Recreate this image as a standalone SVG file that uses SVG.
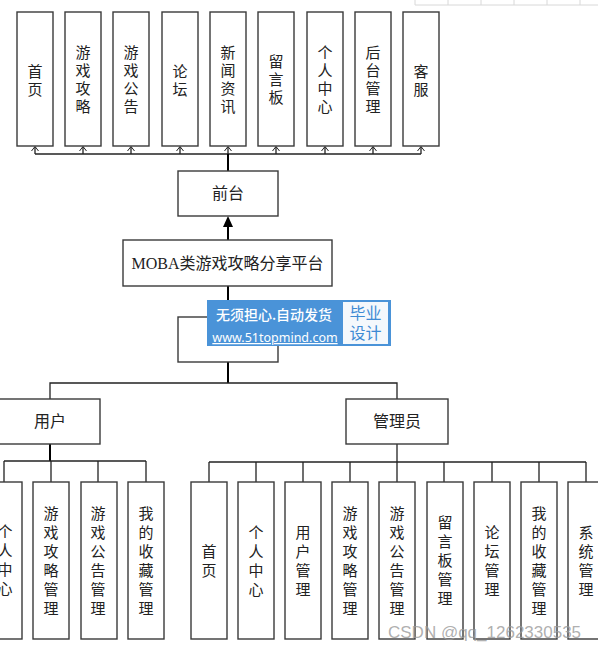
<svg xmlns="http://www.w3.org/2000/svg" width="598" height="647" viewBox="0 0 598 647">
<style>
.box{fill:#fff;stroke:#3a3a3a;stroke-width:1.4}
.vt{font-family:"Noto Sans CJK SC",sans-serif;font-size:15px;fill:#222;text-anchor:middle}
.st{font-family:"Liberation Serif","Noto Sans CJK SC",serif;font-size:16px;fill:#222;text-anchor:middle}
.ln{fill:none;stroke:#222;stroke-width:1.3}
.ah{fill:none;stroke:#222;stroke-width:1}
.thick{fill:none;stroke:#000;stroke-width:2}
.grid{stroke:#d8d8d8;stroke-width:1}
</style>
<rect width="598" height="647" fill="#fff"/>
<g id="grid-bg">
<line class="grid" x1="415" y1="5" x2="598" y2="5"/>
<line class="grid" x1="415" y1="0" x2="415" y2="5"/>
<line class="grid" x1="448" y1="0" x2="448" y2="5"/>
<line class="grid" x1="481" y1="0" x2="481" y2="5"/>
<line class="grid" x1="514" y1="0" x2="514" y2="5"/>
<line class="grid" x1="547" y1="0" x2="547" y2="5"/>
<line class="grid" x1="580" y1="0" x2="580" y2="5"/>
</g>
<g id="connectors">
<line class="ln" x1="35" y1="154" x2="421" y2="154"/>
<path class="ln" d="M35,154V147M83,154V147M131,154V147M180,154V147M228,154V147M276,154V147M325,154V147M373,154V147M421,154V147"/>
<path class="ah" d="M31.5,151L35,146.5L38.5,151M79.5,151L83,146.5L86.5,151M127.5,151L131,146.5L134.5,151M176.5,151L180,146.5L183.5,151M224.5,151L228,146.5L231.5,151M272.5,151L276,146.5L279.5,151M321.5,151L325,146.5L328.5,151M369.5,151L373,146.5L376.5,151M417.5,151L421,146.5L424.5,151"/>
<line class="thick" x1="228" y1="171" x2="228" y2="154"/>
<line class="thick" x1="228" y1="240" x2="228" y2="226"/>
<path d="M228,216 L223,227 L233,227 Z" fill="#000"/>
<line class="thick" x1="228" y1="286" x2="228" y2="317"/>
<line class="thick" x1="228" y1="362" x2="228" y2="383"/>
<polyline class="ln" points="50,399 50,383 397,383 397,399"/>
<line class="thick" x1="50" y1="444" x2="50" y2="461"/>
<line class="ln" x1="4" y1="461" x2="146" y2="461"/>
<path class="ln" d="M4,461V482M51,461V482M98,461V482M146,461V482"/>
<line class="ln" x1="397" y1="444" x2="397" y2="462"/>
<line class="ln" x1="209" y1="462" x2="586" y2="462"/>
<path class="ln" d="M209,462V482M256,462V482M303,462V482M350,462V482M397,462V482M444,462V482M492,462V482M539,462V482M586,462V482"/>
</g>
<g id="top-1"><rect class="box" x="17" y="12" width="36" height="134"/><text class="vt" x="35"><tspan x="35" y="77">首</tspan><tspan x="35" y="95">页</tspan></text></g>
<g id="top-2"><rect class="box" x="65" y="12" width="36" height="134"/><text class="vt"><tspan x="83" y="58">游</tspan><tspan x="83" y="76">戏</tspan><tspan x="83" y="94">攻</tspan><tspan x="83" y="112">略</tspan></text></g>
<g id="top-3"><rect class="box" x="113" y="12" width="36" height="134"/><text class="vt"><tspan x="131" y="58">游</tspan><tspan x="131" y="76">戏</tspan><tspan x="131" y="94">公</tspan><tspan x="131" y="112">告</tspan></text></g>
<g id="top-4"><rect class="box" x="162" y="12" width="36" height="134"/><text class="vt"><tspan x="180" y="77">论</tspan><tspan x="180" y="95">坛</tspan></text></g>
<g id="top-5"><rect class="box" x="210" y="12" width="36" height="134"/><text class="vt"><tspan x="228" y="58">新</tspan><tspan x="228" y="76">闻</tspan><tspan x="228" y="94">资</tspan><tspan x="228" y="112">讯</tspan></text></g>
<g id="top-6"><rect class="box" x="258" y="12" width="36" height="134"/><text class="vt"><tspan x="276" y="67">留</tspan><tspan x="276" y="85">言</tspan><tspan x="276" y="103">板</tspan></text></g>
<g id="top-7"><rect class="box" x="307" y="12" width="36" height="134"/><text class="vt"><tspan x="325" y="58">个</tspan><tspan x="325" y="76">人</tspan><tspan x="325" y="94">中</tspan><tspan x="325" y="112">心</tspan></text></g>
<g id="top-8"><rect class="box" x="355" y="12" width="36" height="134"/><text class="vt"><tspan x="373" y="58">后</tspan><tspan x="373" y="76">台</tspan><tspan x="373" y="94">管</tspan><tspan x="373" y="112">理</tspan></text></g>
<g id="top-9"><rect class="box" x="403" y="12" width="36" height="134"/><text class="vt"><tspan x="421" y="77">客</tspan><tspan x="421" y="95">服</tspan></text></g>
<g id="qiantai"><rect class="box" x="178" y="171" width="100" height="45"/><text class="st" x="228" y="199">前台</text></g>
<g id="platform"><rect class="box" x="123" y="240" width="209" height="46"/><text class="st" x="227.5" y="269">MOBA类游戏攻略分享平台</text></g>
<g id="houtai"><rect class="box" x="178" y="317" width="100" height="45"/></g>
<g id="user"><rect class="box" x="-2" y="399" width="102" height="45"/><text class="st" x="50" y="427">用户</text></g>
<g id="admin"><rect class="box" x="346" y="399" width="102" height="45"/><text class="st" x="397" y="427">管理员</text></g>
<g id="u-1"><rect class="box" x="-14" y="482" width="36" height="157"/><text class="vt"><tspan x="5" y="537">个</tspan><tspan x="5" y="556">人</tspan><tspan x="5" y="575">中</tspan><tspan x="5" y="594">心</tspan></text></g>
<g id="u-2"><rect class="box" x="33" y="482" width="36" height="157"/><text class="vt"><tspan x="51" y="519">游</tspan><tspan x="51" y="538">戏</tspan><tspan x="51" y="557">攻</tspan><tspan x="51" y="576">略</tspan><tspan x="51" y="595">管</tspan><tspan x="51" y="614">理</tspan></text></g>
<g id="u-3"><rect class="box" x="81" y="482" width="36" height="157"/><text class="vt"><tspan x="98" y="519">游</tspan><tspan x="98" y="538">戏</tspan><tspan x="98" y="557">公</tspan><tspan x="98" y="576">告</tspan><tspan x="98" y="595">管</tspan><tspan x="98" y="614">理</tspan></text></g>
<g id="u-4"><rect class="box" x="128" y="482" width="36" height="157"/><text class="vt"><tspan x="146" y="519">我</tspan><tspan x="146" y="538">的</tspan><tspan x="146" y="557">收</tspan><tspan x="146" y="576">藏</tspan><tspan x="146" y="595">管</tspan><tspan x="146" y="614">理</tspan></text></g>
<g id="a-1"><rect class="box" x="191" y="482" width="36" height="157"/><text class="vt"><tspan x="209" y="557">首</tspan><tspan x="209" y="576">页</tspan></text></g>
<g id="a-2"><rect class="box" x="238" y="482" width="36" height="157"/><text class="vt"><tspan x="256" y="538">个</tspan><tspan x="256" y="557">人</tspan><tspan x="256" y="576">中</tspan><tspan x="256" y="595">心</tspan></text></g>
<g id="a-3"><rect class="box" x="285" y="482" width="36" height="157"/><text class="vt"><tspan x="303" y="538">用</tspan><tspan x="303" y="557">户</tspan><tspan x="303" y="576">管</tspan><tspan x="303" y="595">理</tspan></text></g>
<g id="a-4"><rect class="box" x="332" y="482" width="36" height="157"/><text class="vt"><tspan x="350" y="519">游</tspan><tspan x="350" y="538">戏</tspan><tspan x="350" y="557">攻</tspan><tspan x="350" y="576">略</tspan><tspan x="350" y="595">管</tspan><tspan x="350" y="614">理</tspan></text></g>
<g id="a-5"><rect class="box" x="379" y="482" width="36" height="157"/><text class="vt"><tspan x="397" y="519">游</tspan><tspan x="397" y="538">戏</tspan><tspan x="397" y="557">公</tspan><tspan x="397" y="576">告</tspan><tspan x="397" y="595">管</tspan><tspan x="397" y="614">理</tspan></text></g>
<g id="a-6"><rect class="box" x="427" y="482" width="36" height="157"/><text class="vt"><tspan x="445" y="528">留</tspan><tspan x="445" y="547">言</tspan><tspan x="445" y="566">板</tspan><tspan x="445" y="585">管</tspan><tspan x="445" y="604">理</tspan></text></g>
<g id="a-7"><rect class="box" x="474" y="482" width="36" height="157"/><text class="vt"><tspan x="492" y="538">论</tspan><tspan x="492" y="557">坛</tspan><tspan x="492" y="576">管</tspan><tspan x="492" y="595">理</tspan></text></g>
<g id="a-8"><rect class="box" x="521" y="482" width="36" height="157"/><text class="vt"><tspan x="539" y="519">我</tspan><tspan x="539" y="538">的</tspan><tspan x="539" y="557">收</tspan><tspan x="539" y="576">藏</tspan><tspan x="539" y="595">管</tspan><tspan x="539" y="614">理</tspan></text></g>
<g id="a-9"><rect class="box" x="568" y="482" width="36" height="157"/><text class="vt"><tspan x="586" y="538">系</tspan><tspan x="586" y="557">统</tspan><tspan x="586" y="576">管</tspan><tspan x="586" y="595">理</tspan></text></g>
<g id="watermark">
<rect x="207" y="300" width="184" height="46" fill="#4a93d8"/>
<rect x="343" y="302" width="45" height="42" fill="#f4f8fc"/>
<text x="274" y="320" font-family="Noto Sans CJK SC,sans-serif" font-size="14" font-weight="500" fill="#fff" text-anchor="middle">无须担心.自动发货</text>
<text x="275" y="342" font-family="Noto Sans,sans-serif" font-size="12.5" fill="#fff" text-anchor="middle" text-decoration="underline">www.51topmind.com</text>
<text x="365.5" y="319" font-family="Noto Sans CJK SC,sans-serif" font-size="16" fill="#3d8ad4" text-anchor="middle">毕业</text>
<text x="365.5" y="339" font-family="Noto Sans CJK SC,sans-serif" font-size="16" fill="#3d8ad4" text-anchor="middle">设计</text>
</g>
<text x="388" y="638" font-family="Liberation Sans,sans-serif" font-size="17" fill="#9a9a9a" fill-opacity="0.8">CSDN @qq_1262330535</text>
</svg>
